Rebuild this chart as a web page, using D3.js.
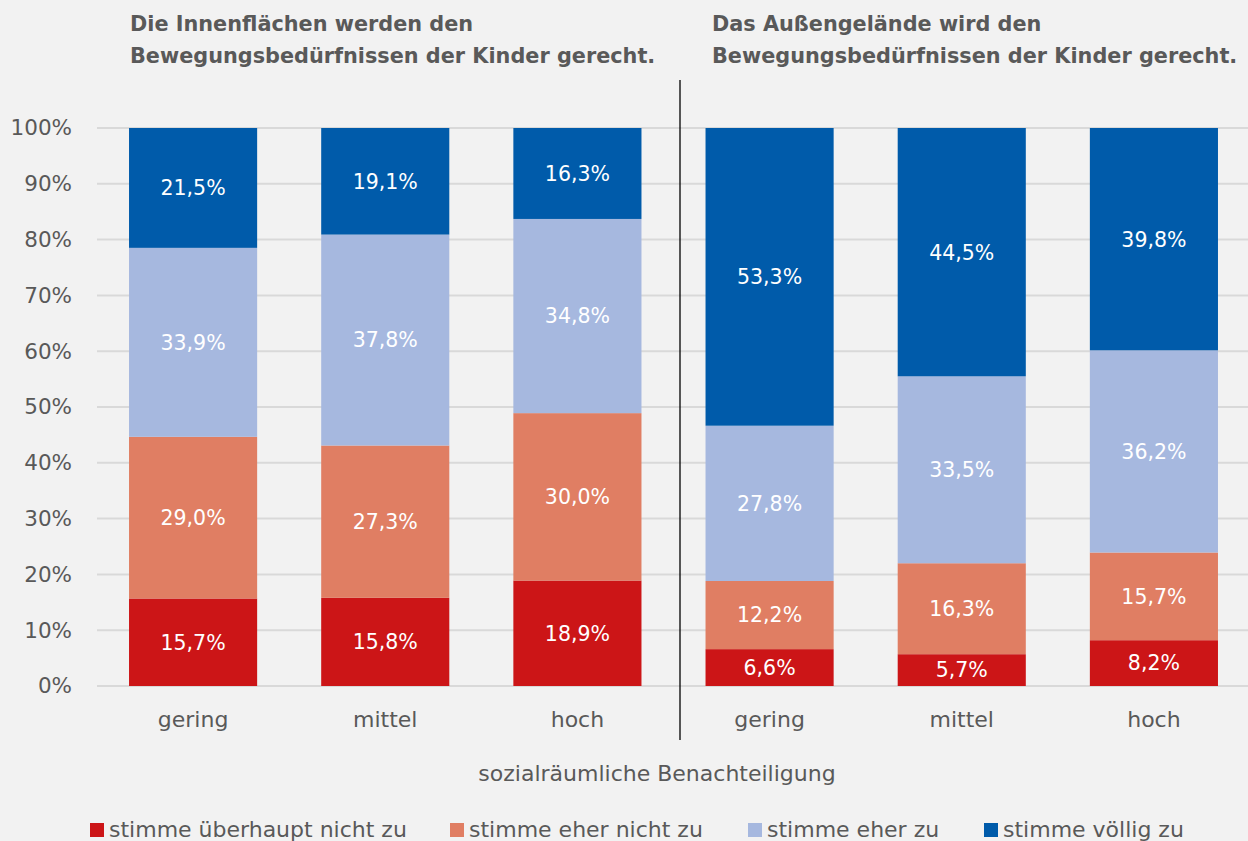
<!DOCTYPE html>
<html>
<head>
<meta charset="utf-8">
<script src="https://cdn.jsdelivr.net/npm/d3@7"></script>
<style>
  body { margin: 0; background: #f2f2f2; }
  svg { display: block; font-family: "DejaVu Sans", sans-serif; }
</style>
</head>
<body>
<div id="chart"></div>
<script>
// categories and series (values in %)
var groups = ["gering", "mittel", "hoch"];
var panels = ["innen", "aussen"];
var panelTitles = [
	["Die Innenflächen werden den", "Bewegungsbedürfnissen der Kinder gerecht."],
	["Das Außengelände wird den", "Bewegungsbedürfnissen der Kinder gerecht."]
];
var seriesKeys = ["ueberhaupt", "eherNicht", "eherZu", "voellig"];
var seriesLabels = ["stimme überhaupt nicht zu", "stimme eher nicht zu", "stimme eher zu", "stimme völlig zu"];
var seriesColors = ["#cc1517", "#e07e63", "#a6b8df", "#005baa"];

var innenUeberhaupt = [15.7, 15.8, 18.9];
var innenEherNicht  = [29.0, 27.3, 30.0];
var innenEherZu     = [33.9, 37.8, 34.8];
var innenVoellig    = [21.5, 19.1, 16.3];

var aussenUeberhaupt = [6.6, 5.7, 8.2];
var aussenEherNicht  = [12.2, 16.3, 15.7];
var aussenEherZu     = [27.8, 33.5, 36.2];
var aussenVoellig    = [53.3, 44.5, 39.8];

var yTicks = [0, 0.1, 0.2, 0.3, 0.4, 0.5, 0.6, 0.7, 0.8, 0.9, 1];
var xTitle = "sozialräumliche Benachteiligung";

// build rows for the stack
var rows = [];
groups.forEach(function (g, i) {
	rows.push({ id: "innen-" + g, group: g, ueberhaupt: innenUeberhaupt[i], eherNicht: innenEherNicht[i], eherZu: innenEherZu[i], voellig: innenVoellig[i] });
});
groups.forEach(function (g, i) {
	rows.push({ id: "aussen-" + g, group: g, ueberhaupt: aussenUeberhaupt[i], eherNicht: aussenEherNicht[i], eherZu: aussenEherZu[i], voellig: aussenVoellig[i] });
});

var width = 1248, height = 841;

var x = d3.scaleBand()
	.domain(rows.map(function (d) { return d.id; }))
	.range([97, 1250])
	.paddingInner(1 / 3)
	.paddingOuter(1 / 6);

var y = d3.scaleLinear().domain([0, 1]).range([686, 128]);

var stack = d3.stack().keys(seriesKeys).offset(d3.stackOffsetExpand);
var stacked = stack(rows);

var svg = d3.select("#chart").append("svg")
	.attr("width", width)
	.attr("height", height);

svg.append("rect").attr("width", width).attr("height", height).attr("fill", "#f2f2f2");

// gridlines
svg.append("g").attr("class", "grid")
	.selectAll("line")
	.data(yTicks)
	.enter().append("line")
	.attr("x1", 97).attr("x2", 1248)
	.attr("y1", function (d) { return y(d); })
	.attr("y2", function (d) { return y(d); })
	.attr("stroke", "#d9d9d9")
	.attr("stroke-width", 2);

// y axis
var yAxis = d3.axisLeft(y)
	.tickValues(yTicks)
	.tickSize(0)
	.tickPadding(0)
	.tickFormat(d3.format(".0%"));

var yG = svg.append("g")
	.attr("transform", "translate(72,0)")
	.call(yAxis);
yG.select(".domain").remove();
yG.selectAll("text")
	.attr("font-size", 21.5)
	.attr("fill", "#595959")
	.attr("font-family", "'DejaVu Sans', sans-serif");

// bars
var layers = svg.append("g").attr("class", "bars")
	.selectAll("g")
	.data(stacked)
	.enter().append("g")
	.attr("fill", function (d, i) { return seriesColors[i]; });

layers.selectAll("rect")
	.data(function (d) { return d; })
	.enter().append("rect")
	.attr("x", function (d) { return x(d.data.id); })
	.attr("width", x.bandwidth())
	.attr("y", function (d) { return y(Math.min(d[1], 1)); })
	.attr("height", function (d) { return y(d[0]) - y(Math.min(d[1], 1)); });

// labels
layers.selectAll("text")
	.data(function (d) { return d.map(function (p) { p.key = d.key; return p; }); })
	.enter().append("text")
	.attr("x", function (d) { return x(d.data.id) + x.bandwidth() / 2; })
	.attr("y", function (d) { return (y(d[0]) + y(Math.min(d[1], 1))) / 2; })
	.attr("dy", "0.36em")
	.attr("text-anchor", "middle")
	.attr("fill", "#ffffff")
	.attr("font-size", 20.5)
	.text(function (d) { return d3.format(".1f")(d.data[d.key]).replace(".", ",") + "%"; });

// x axis
var xAxis = d3.axisBottom(x)
	.tickSize(0)
	.tickPadding(0)
	.tickFormat(function (id) { return id.split("-")[1]; });

var xG = svg.append("g")
	.attr("transform", "translate(0,708)")
	.call(xAxis);
xG.select(".domain").remove();
xG.selectAll("text")
	.attr("y", 19)
	.attr("dy", null)
	.attr("font-size", 22)
	.attr("fill", "#595959")
	.attr("font-family", "'DejaVu Sans', sans-serif");

// separator
svg.append("line")
	.attr("x1", 680).attr("x2", 680)
	.attr("y1", 80).attr("y2", 740)
	.attr("stroke", "#000")
	.attr("stroke-width", 1.3);

// panel titles
var titleX = [130, 712];
panels.forEach(function (p, i) {
	var t = svg.append("text")
		.attr("x", titleX[i])
		.attr("y", 31)
		.attr("font-size", 20.8)
		.attr("font-weight", "bold")
		.attr("fill", "#595959")
		.attr("font-family", "'DejaVu Sans', sans-serif");
	panelTitles[i].forEach(function (line, j) {
		t.append("tspan")
			.attr("x", titleX[i])
			.attr("dy", j === 0 ? 0 : 32)
			.text(line);
	});
});

// axis title
svg.append("text")
	.attr("x", 657)
	.attr("y", 781)
	.attr("text-anchor", "middle")
	.attr("font-size", 22)
	.attr("fill", "#595959")
	.text(xTitle);

// legend
var legendX = [90, 450, 748, 984];
var legend = svg.append("g").attr("class", "legend")
	.selectAll("g")
	.data(seriesLabels)
	.enter().append("g")
	.attr("transform", function (d, i) { return "translate(" + legendX[i] + ",823)"; });

legend.append("rect")
	.attr("width", 14).attr("height", 14)
	.attr("fill", function (d, i) { return seriesColors[i]; });

legend.append("text")
	.attr("x", 19)
	.attr("y", 14)
	.attr("font-size", 22)
	.attr("fill", "#595959")
	.text(function (d) { return d; });
</script>
</body>
</html>
